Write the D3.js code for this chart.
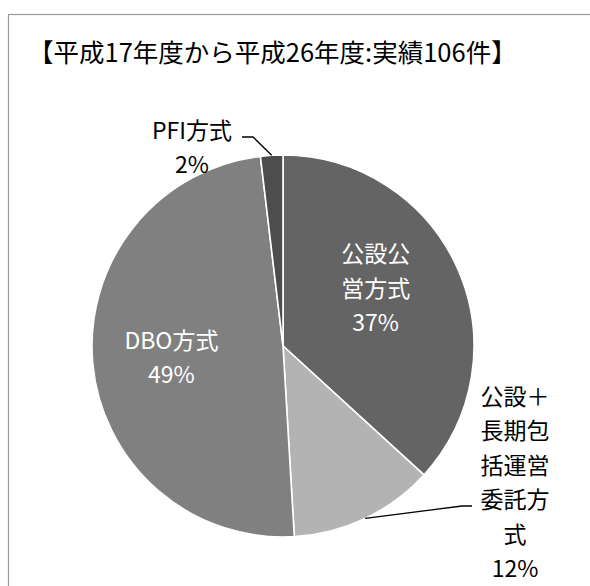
<!DOCTYPE html>
<html lang="ja">
<head>
<meta charset="UTF-8">
<script src="https://d3js.org/d3.v7.min.js"></script>
<style>
  html, body { margin: 0; padding: 0; background: #fff; }
  svg { display: block; font-family: "Noto Sans CJK JP", "Noto Sans", sans-serif; }
</style>
</head>
<body>
<svg id="chart" width="590" height="586"></svg>
<script>
// データ（実績106件の内訳）
const title = "【平成17年度から平成26年度:実績106件】";
const categories = ["公設公営方式", "公設＋長期包括運営委託方式", "DBO方式", "PFI方式"];
const counts = [39, 13, 52, 2];
// 表示用ラベル（改行位置は元図どおり）
const labelLines = [
  ["公設公", "営方式"],
  ["公設＋", "長期包", "括運営", "委託方", "式"],
  ["DBO方式"],
  ["PFI方式"]
];

const width = 590, height = 586;
const cx = 283, cy = 346, R = 191;
const colors = ["#646464", "#b3b3b3", "#808080", "#4d4d4d"];
const lineH = 34.5;

// ラベル配置（重心からのずれ）と引き出し線
const labelLayout = [
  { r: 110, dx: -8, dy: -15, inside: true },
  { r: 0, x: 515, y: 481, inside: false, elbow: [462, 506], end: [472, 506] },
  { r: 110, dx: -2, dy: 0, inside: true },
  { r: 0, x: 192, y: 146, inside: false, elbow: [253, 137], end: [242, 137] }
];

const svg = d3.select("#chart");

// 外枠
svg.append("rect")
  .attr("x", 8.5).attr("y", 14.5)
  .attr("width", width + 20).attr("height", height + 20)
  .attr("fill", "#fff")
  .attr("stroke", "#9a9a9a")
  .attr("stroke-width", 1.2);

// タイトル
svg.append("text")
  .attr("x", 28).attr("y", 50)
  .attr("dominant-baseline", "central")
  .attr("font-size", 25.5)
  .attr("fill", "#000")
  .text(title);

const total = d3.sum(counts);
const data = categories.map((c, i) => ({ name: c, value: counts[i], i }));

const pie = d3.pie().sort(null).value(d => d.value);
const arc = d3.arc().innerRadius(0).outerRadius(R);
const arcs = pie(data);

const g = svg.append("g").attr("transform", `translate(${cx},${cy})`);

g.selectAll("path.slice")
  .data(arcs)
  .enter().append("path")
  .attr("class", "slice")
  .attr("d", arc)
  .attr("fill", d => colors[d.data.i])
  .attr("stroke", "#fff")
  .attr("stroke-width", 1.6);

// ラベル
arcs.forEach(a => {
  const L = labelLayout[a.data.i];
  const pct = Math.round(a.data.value / total * 100) + "%";
  const lines = labelLines[a.data.i].concat([pct]);
  let x, y;
  if (L.inside) {
    const c = d3.arc().innerRadius(L.r).outerRadius(L.r).centroid(a);
    x = cx + c[0] + L.dx;
    y = cy + c[1] + L.dy;
  } else {
    x = L.x; y = L.y;
    // 引き出し線
    const mid = (a.startAngle + a.endAngle) / 2;
    const p0 = [cx + R * Math.sin(mid), cy - R * Math.cos(mid)];
    svg.append("polyline")
      .attr("points", [p0, L.elbow, L.end].map(p => p.join(",")).join(" "))
      .attr("fill", "none")
      .attr("stroke", "#000")
      .attr("stroke-width", 1.3);
  }
  const t = svg.append("text")
    .attr("text-anchor", "middle")
    .attr("font-size", 23)
    .attr("fill", L.inside ? "#fff" : "#000");
  const y0 = y - (lines.length - 1) * lineH / 2;
  lines.forEach((s, k) => {
    t.append("tspan")
      .attr("x", x)
      .attr("y", y0 + k * lineH)
      .attr("dominant-baseline", "central")
      .text(s);
  });
});
</script>
</body>
</html>
